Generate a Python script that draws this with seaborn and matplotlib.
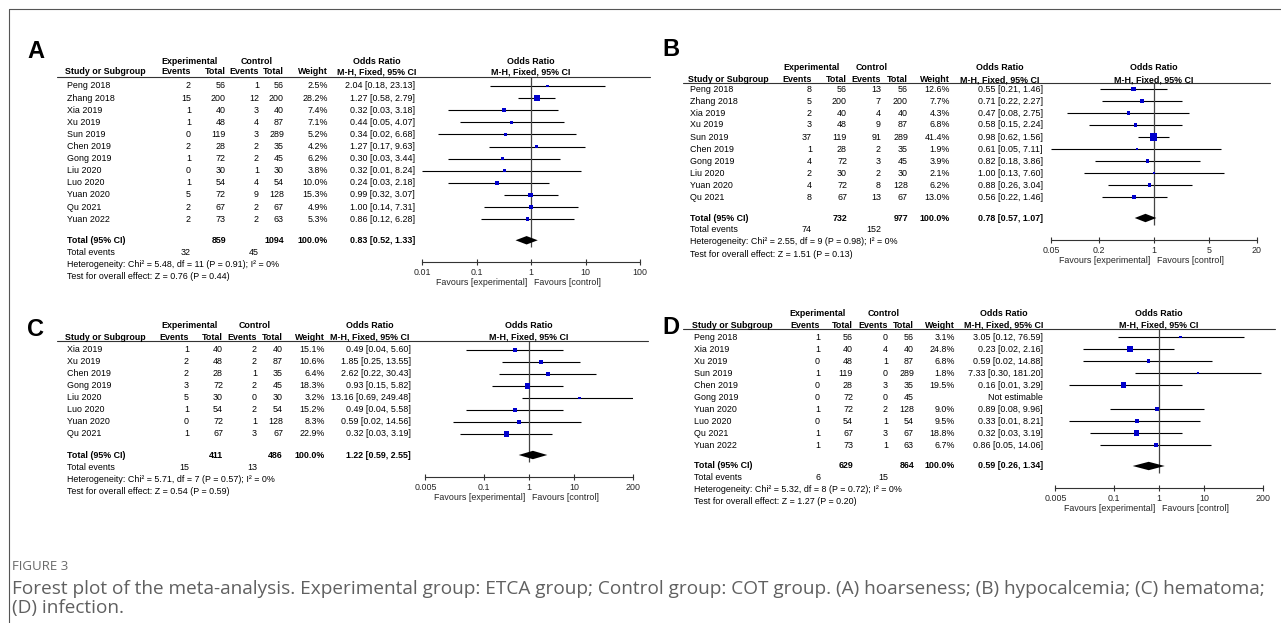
import numpy as np
import pandas as pd
import matplotlib
matplotlib.use("Agg")
import matplotlib.pyplot as plt
import seaborn as sns
from matplotlib.lines import Line2D
from matplotlib.ticker import NullLocator

sns.set_style("white")
plt.rcParams["font.family"] = ["Liberation Sans", "DejaVu Sans"]

W, H = 1281, 623
FS = 6.4

# =====================================================
# Data
# =====================================================

# A: hoarseness
studies_a = ["Peng 2018", "Zhang 2018", "Xia 2019", "Xu 2019", "Sun 2019", "Chen 2019",
             "Gong 2019", "Liu 2020", "Luo 2020", "Yuan 2020", "Qu 2021", "Yuan 2022"]
exp_ev_a = [2, 15, 1, 1, 0, 2, 1, 0, 1, 5, 2, 2]
exp_tot_a = [56, 200, 40, 48, 119, 28, 72, 30, 54, 72, 67, 73]
ctl_ev_a = [1, 12, 3, 4, 3, 2, 2, 1, 4, 9, 2, 2]
ctl_tot_a = [56, 200, 40, 87, 289, 35, 45, 30, 54, 128, 67, 63]
weight_a = [2.5, 28.2, 7.4, 7.1, 5.2, 4.2, 6.2, 3.8, 10.0, 15.3, 4.9, 5.3]
or_a = [2.04, 1.27, 0.32, 0.44, 0.34, 1.27, 0.30, 0.32, 0.24, 0.99, 1.00, 0.86]
lo_a = [0.18, 0.58, 0.03, 0.05, 0.02, 0.17, 0.03, 0.01, 0.03, 0.32, 0.14, 0.12]
hi_a = [23.13, 2.79, 3.18, 4.07, 6.68, 9.63, 3.44, 8.24, 2.18, 3.07, 7.31, 6.28]
total_a = [859, 1094, 0.83, 0.52, 1.33, 32, 45]
stats_a = ["Heterogeneity: Chi² = 5.48, df = 11 (P = 0.91); I² = 0%",
           "Test for overall effect: Z = 0.76 (P = 0.44)"]
ticks_a = [0.01, 0.1, 1, 10, 100]
tick_labels_a = ["0.01", "0.1", "1", "10", "100"]

# B: hypocalcemia
studies_b = ["Peng 2018", "Zhang 2018", "Xia 2019", "Xu 2019", "Sun 2019", "Chen 2019",
             "Gong 2019", "Liu 2020", "Yuan 2020", "Qu 2021"]
exp_ev_b = [8, 5, 2, 3, 37, 1, 4, 2, 4, 8]
exp_tot_b = [56, 200, 40, 48, 119, 28, 72, 30, 72, 67]
ctl_ev_b = [13, 7, 4, 9, 91, 2, 3, 2, 8, 13]
ctl_tot_b = [56, 200, 40, 87, 289, 35, 45, 30, 128, 67]
weight_b = [12.6, 7.7, 4.3, 6.8, 41.4, 1.9, 3.9, 2.1, 6.2, 13.0]
or_b = [0.55, 0.71, 0.47, 0.58, 0.98, 0.61, 0.82, 1.00, 0.88, 0.56]
lo_b = [0.21, 0.22, 0.08, 0.15, 0.62, 0.05, 0.18, 0.13, 0.26, 0.22]
hi_b = [1.46, 2.27, 2.75, 2.24, 1.56, 7.11, 3.86, 7.60, 3.04, 1.46]
total_b = [732, 977, 0.78, 0.57, 1.07, 74, 152]
stats_b = ["Heterogeneity: Chi² = 2.55, df = 9 (P = 0.98); I² = 0%",
           "Test for overall effect: Z = 1.51 (P = 0.13)"]
ticks_b = [0.05, 0.2, 1, 5, 20]
tick_labels_b = ["0.05", "0.2", "1", "5", "20"]

# C: hematoma
studies_c = ["Xia 2019", "Xu 2019", "Chen 2019", "Gong 2019", "Liu 2020", "Luo 2020",
             "Yuan 2020", "Qu 2021"]
exp_ev_c = [1, 2, 2, 3, 5, 1, 0, 1]
exp_tot_c = [40, 48, 28, 72, 30, 54, 72, 67]
ctl_ev_c = [2, 2, 1, 2, 0, 2, 1, 3]
ctl_tot_c = [40, 87, 35, 45, 30, 54, 128, 67]
weight_c = [15.1, 10.6, 6.4, 18.3, 3.2, 15.2, 8.3, 22.9]
or_c = [0.49, 1.85, 2.62, 0.93, 13.16, 0.49, 0.59, 0.32]
lo_c = [0.04, 0.25, 0.22, 0.15, 0.69, 0.04, 0.02, 0.03]
hi_c = [5.60, 13.55, 30.43, 5.82, 249.48, 5.58, 14.56, 3.19]
total_c = [411, 486, 1.22, 0.59, 2.55, 15, 13]
stats_c = ["Heterogeneity: Chi² = 5.71, df = 7 (P = 0.57); I² = 0%",
           "Test for overall effect: Z = 0.54 (P = 0.59)"]
ticks_c = [0.005, 0.1, 1, 10, 200]
tick_labels_c = ["0.005", "0.1", "1", "10", "200"]

# D: infection (Gong 2019 not estimable)
studies_d = ["Peng 2018", "Xia 2019", "Xu 2019", "Sun 2019", "Chen 2019", "Gong 2019",
             "Yuan 2020", "Luo 2020", "Qu 2021", "Yuan 2022"]
exp_ev_d = [1, 1, 0, 1, 0, 0, 1, 0, 1, 1]
exp_tot_d = [56, 40, 48, 119, 28, 72, 72, 54, 67, 73]
ctl_ev_d = [0, 4, 1, 0, 3, 0, 2, 1, 3, 1]
ctl_tot_d = [56, 40, 87, 289, 35, 45, 128, 54, 67, 63]
weight_d = [3.1, 24.8, 6.8, 1.8, 19.5, np.nan, 9.0, 9.5, 18.8, 6.7]
or_d = [3.05, 0.23, 0.59, 7.33, 0.16, np.nan, 0.89, 0.33, 0.32, 0.86]
lo_d = [0.12, 0.02, 0.02, 0.30, 0.01, np.nan, 0.08, 0.01, 0.03, 0.05]
hi_d = [76.59, 2.16, 14.88, 181.20, 3.29, np.nan, 9.96, 8.21, 3.19, 14.06]
total_d = [629, 864, 0.59, 0.26, 1.34, 6, 15]
stats_d = ["Heterogeneity: Chi² = 5.32, df = 8 (P = 0.72); I² = 0%",
           "Test for overall effect: Z = 1.27 (P = 0.20)"]
ticks_d = [0.005, 0.1, 1, 10, 200]
tick_labels_d = ["0.005", "0.1", "1", "10", "200"]

caption_title = "FIGURE 3"
caption_lines = [
    "Forest plot of the meta-analysis. Experimental group: ETCA group; Control group: COT group. "
    "(A) hoarseness; (B) hypocalcemia; (C) hematoma;",
    "(D) infection.",
]

# =====================================================
# Layout (pixels)
# =====================================================

layouts = {
    "A": dict(letter=(27, 51), h1=61, h2=72, line=(57, 650, 77), hdr_x=65, name_x=67,
              cols=[191, 226, 259, 284, 328, 415], exp_c=190, ctl_c=257, or_c=377,
              x1=531, dec=54.5, row0=86, sp=12.1),
    "B": dict(letter=(662, 49), h1=68, h2=80, line=(683, 1270, 83), hdr_x=688, name_x=690,
              cols=[812, 847, 881, 908, 950, 1043], exp_c=811, ctl_c=872, or_c=1000,
              x1=1154, dec=79, row0=89, sp=12.0),
    "C": dict(letter=(27, 329), h1=325, h2=337, line=(57, 648, 341), hdr_x=65, name_x=67,
              cols=[189, 223, 257, 283, 325, 411], exp_c=189, ctl_c=255, or_c=370,
              x1=529, dec=45, row0=350, sp=12.0),
    "D": dict(letter=(662, 327), h1=313, h2=325, line=(683, 1275, 329), hdr_x=692, name_x=694,
              cols=[820, 853, 888, 914, 955, 1043], exp_c=818, ctl_c=884, or_c=1004,
              x1=1159, dec=45, row0=337, sp=12.0),
}

fig = plt.figure(figsize=(W / 100, H / 100), dpi=100)


def fx(x):
    return x / W


def fy(y):
    return 1 - y / H


def put(x, y, s, ha="left", bold=False, size=FS, color="black", **kw):
    return fig.text(fx(x), fy(y), s, ha=ha, va="center", fontsize=size,
                    fontweight="bold" if bold else "normal", color=color, **kw)


def fig_line(xs, ys, color="#333333", lw=0.8):
    fig.add_artist(Line2D([fx(v) for v in xs], [fy(v) for v in ys], color=color, lw=lw))


def forest(key, studies, ev_e, tot_e, ev_c, tot_c, weight, orr, lo, hi, total, stats,
           ticks, tick_labels):
    L = layouts[key]
    n = len(studies)
    c = L["cols"]

    # ---- header
    put(L["letter"][0], L["letter"][1], key, bold=True, size=17)
    put(L["exp_c"], L["h1"], "Experimental", ha="center", bold=True)
    put(L["ctl_c"], L["h1"], "Control", ha="center", bold=True)
    put(L["or_c"], L["h1"], "Odds Ratio", ha="center", bold=True)
    put(L["x1"], L["h1"], "Odds Ratio", ha="center", bold=True)
    put(L["hdr_x"], L["h2"], "Study or Subgroup", bold=True)
    for col, lab in zip(c[:5], ["Events", "Total", "Events", "Total", "Weight"]):
        put(col, L["h2"], lab, ha="right", bold=True)
    put(L["or_c"], L["h2"], "M-H, Fixed, 95% CI", ha="center", bold=True)
    put(L["x1"], L["h2"], "M-H, Fixed, 95% CI", ha="center", bold=True)
    x0, x1, yl = L["line"]
    fig_line([x0, x1], [yl, yl])

    # ---- study rows
    for i in range(n):
        y = L["row0"] + L["sp"] * i
        put(L["name_x"], y, studies[i])
        put(c[0], y, str(ev_e[i]), ha="right")
        put(c[1], y, str(tot_e[i]), ha="right")
        put(c[2], y, str(ev_c[i]), ha="right")
        put(c[3], y, str(tot_c[i]), ha="right")
        if np.isnan(orr[i]):
            put(c[5], y, "Not estimable", ha="right")
        else:
            put(c[4], y, f"{weight[i]:.1f}%", ha="right")
            put(c[5], y, f"{orr[i]:.2f} [{lo[i]:.2f}, {hi[i]:.2f}]", ha="right")

    # ---- totals
    t_idx = n - 1 + 1.75
    ty = L["row0"] + L["sp"] * t_idx
    put(L["name_x"], ty, "Total (95% CI)", bold=True)
    put(c[1], ty, str(total[0]), ha="right", bold=True)
    put(c[3], ty, str(total[1]), ha="right", bold=True)
    put(c[4], ty, "100.0%", ha="right", bold=True)
    put(c[5], ty, f"{total[2]:.2f} [{total[3]:.2f}, {total[4]:.2f}]", ha="right", bold=True)
    put(L["name_x"], ty + L["sp"], "Total events")
    put(c[0], ty + L["sp"], str(total[5]), ha="right")
    put(c[2], ty + L["sp"], str(total[6]), ha="right")
    put(L["name_x"], ty + 2 * L["sp"], stats[0])
    put(L["name_x"], ty + 3 * L["sp"], stats[1])

    # ---- forest axes
    left = L["x1"] + L["dec"] * np.log10(ticks[0])
    right = L["x1"] + L["dec"] * np.log10(ticks[-1])
    top = yl
    bottom = ty + 22
    ax = fig.add_axes([fx(left), fy(bottom), (right - left) / W, (bottom - top) / H])
    ax.patch.set_alpha(0)
    ax.set_xscale("log")
    ax.set_xlim(ticks[0], ticks[-1])
    ax.set_ylim((bottom - L["row0"]) / L["sp"], (top - L["row0"]) / L["sp"])

    df = pd.DataFrame({"row": np.arange(n), "or": orr, "lo": lo, "hi": hi, "w": weight}).dropna()

    ax.hlines(df["row"], df["lo"], df["hi"], color="black", lw=0.8)
    sns.scatterplot(data=df, x="or", y="row", size="w", sizes=(2.5, 60), size_norm=(0, 100),
                    marker="s", color="#0000cc", linewidth=0, legend=False, ax=ax, zorder=3)

    dh = 4.2 / L["sp"]
    ax.fill([total[3], total[2], total[4], total[2]], [t_idx, t_idx - dh, t_idx, t_idx + dh],
            color="black", lw=0, zorder=4)
    ax.vlines(1, t_idx + 0.55, ax.get_ylim()[1], color="#444444", lw=0.9, zorder=2)

    for s in ["top", "left", "right"]:
        ax.spines[s].set_visible(False)
    ax.spines["bottom"].set_color("#333333")
    ax.spines["bottom"].set_linewidth(0.8)
    ax.set_xticks(ticks)
    ax.set_xticklabels(tick_labels)
    ax.xaxis.set_minor_locator(NullLocator())
    ax.set_yticks([])
    ax.set_xlabel("")
    ax.set_ylabel("")
    ax.tick_params(axis="x", direction="inout", length=5, width=0.8, color="#333333",
                   pad=1.5, labelsize=FS, bottom=True)

    ax.annotate("Favours [experimental]", xy=(1, 0), xycoords=("data", "axes fraction"),
                xytext=(-2.5, -14.5), textcoords="offset points", ha="right", va="center",
                fontsize=FS, annotation_clip=False)
    ax.annotate("Favours [control]", xy=(1, 0), xycoords=("data", "axes fraction"),
                xytext=(2.5, -14.5), textcoords="offset points", ha="left", va="center",
                fontsize=FS, annotation_clip=False)


forest("A", studies_a, exp_ev_a, exp_tot_a, ctl_ev_a, ctl_tot_a, weight_a, or_a, lo_a, hi_a,
       total_a, stats_a, ticks_a, tick_labels_a)
forest("B", studies_b, exp_ev_b, exp_tot_b, ctl_ev_b, ctl_tot_b, weight_b, or_b, lo_b, hi_b,
       total_b, stats_b, ticks_b, tick_labels_b)
forest("C", studies_c, exp_ev_c, exp_tot_c, ctl_ev_c, ctl_tot_c, weight_c, or_c, lo_c, hi_c,
       total_c, stats_c, ticks_c, tick_labels_c)
forest("D", studies_d, exp_ev_d, exp_tot_d, ctl_ev_d, ctl_tot_d, weight_d, or_d, lo_d, hi_d,
       total_d, stats_d, ticks_d, tick_labels_d)

# =====================================================
# Frame and caption
# =====================================================

fig_line([9, W], [9, 9], color="#555555", lw=0.8)
fig_line([9, 9], [9, H], color="#555555", lw=0.8)

cap_font = ["Open Sans", "DejaVu Sans"]
put(12, 566, caption_title, size=9.5, color="#6a6a6a", family=cap_font)
cap1 = put(12, 589, caption_lines[0], size=12, color="#606060", family=cap_font)
fig.canvas.draw()
w = cap1.get_window_extent().width
cap_size = 12 * 1251 / w
cap1.set_fontsize(cap_size)
put(12, 608, caption_lines[1], size=cap_size, color="#606060", family=cap_font)

fig.savefig("out.png", dpi=100)
plt.close(fig)
print("Saved: out.png")
